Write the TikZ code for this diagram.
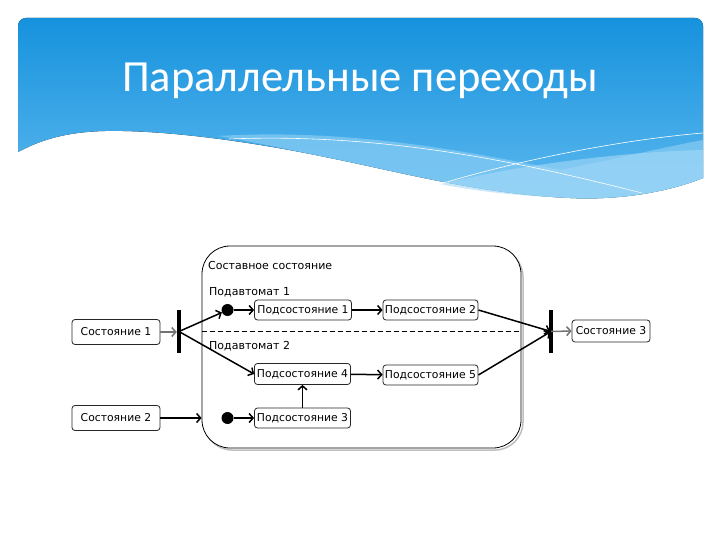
\documentclass[tikz,border=0pt]{standalone}
\usepackage{fontspec}
\setmainfont{DejaVu Sans}
\newfontfamily\titlefont{Carlito}
\usetikzlibrary{arrows.meta}
\definecolor{hdrTop}{RGB}{22,146,221}
\definecolor{hdrBot}{RGB}{92,184,238}
\definecolor{hdrLight}{RGB}{135,204,244}
\definecolor{hdrLighter}{RGB}{165,218,248}
\begin{document}
\begin{tikzpicture}[x=1pt,y=-1pt,
  box/.style={draw=black!85,line width=0.8pt,rounded corners=3pt,fill=white,inner sep=0pt,
    font=\fontsize{10.8}{12}\selectfont},
  bar/.style={fill=black,inner sep=0pt,minimum width=4pt,minimum height=43pt},
  dot/.style={circle,fill=black,inner sep=0pt,minimum size=12pt},
  lbl/.style={anchor=west,inner sep=0pt,font=\fontsize{11}{13}\selectfont},
  arr/.style={line width=1.5pt,-{Straight Barb[length=4pt,width=9pt]}},
  garr/.style={arr,draw=black!55},
]
\useasboundingbox (0,0) rectangle (720,540);
\fill[white] (0,0) rectangle (720,540);
% header
\fill[top color=hdrTop,bottom color=hdrBot]
  (18,152) [rounded corners=8pt] -- (18,18) -- (703,18) [sharp corners] -- (703,178)
  .. controls (660,195) and (610,200) .. (570,198)
  .. controls (480,194) and (400,172) .. (330,158)
  .. controls (230,137) and (150,130) .. (105,131)
  .. controls (60,132) and (35,143) .. (18,152) -- cycle;
\fill[hdrLight,opacity=0.7]
  (218,136) .. controls (350,128) and (470,152) .. (560,170)
  .. controls (620,158) and (670,146) .. (703,140) -- (703,178)
  .. controls (660,195) and (610,200) .. (570,198)
  .. controls (480,194) and (400,172) .. (330,158)
  .. controls (290,150) and (255,142) .. (218,136) -- cycle;
\fill[hdrLighter,opacity=0.6]
  (440,184) .. controls (520,165) and (620,152) .. (703,150) -- (703,178)
  .. controls (660,195) and (610,200) .. (570,198)
  .. controls (520,196) and (480,192) .. (440,184) -- cycle;
\draw[white,line width=0.6pt] (229,139) .. controls (400,132) and (550,170) .. (642,193);
\draw[white,line width=0.6pt] (440,184) .. controls (520,160) and (620,140) .. (703,133);
\node[font=\titlefont\fontsize{44.5}{50}\selectfont,text=white,anchor=base,inner sep=0pt] (title) at (360,92) {Параллельные переходы};
% composite state
\draw[black!25,line width=1.5pt,rounded corners=28pt] (204,249) rectangle (523,450);
\node[draw=black,line width=0.8pt,fill=white,rounded corners=28pt,minimum width=319pt,minimum height=202pt,inner sep=0pt] (comp) at (361.5,347) {};
\coordinate (dl) at (202,331);
\coordinate (dr) at (521,331);
\draw[line width=0.7pt,dash pattern=on 5pt off 3pt] (dl) -- (dr);
\node[lbl] (compl) at (208,265) {Составное состояние};
\node[lbl] (sa1) at (209,292) {Подавтомат 1};
\node[lbl] (sa2) at (209,346) {Подавтомат 2};
% nodes
\node[box,minimum width=88pt,minimum height=25pt] (s1) at (116,332) {Состояние 1};
\node[box,minimum width=88pt,minimum height=25pt] (s2) at (116,418) {Состояние 2};
\node[box,minimum width=78pt,minimum height=22pt] (s3) at (611,331) {Состояние 3};
\node[box,minimum width=97pt,minimum height=20pt] (p1) at (303,310) {Подсостояние 1};
\node[box,minimum width=95pt,minimum height=20pt] (p2) at (430.5,310) {Подсостояние 2};
\node[box,minimum width=96pt,minimum height=21pt] (p4) at (302.5,374) {Подсостояние 4};
\node[box,minimum width=95pt,minimum height=20pt] (p5) at (430.5,375) {Подсостояние 5};
\node[box,minimum width=96pt,minimum height=20pt] (p3) at (302.5,418) {Подсостояние 3};
\node[bar] (fork) at (179,331.5) {};
\node[bar] (join) at (551,331.5) {};
\node[dot] (d1) at (227.5,310) {};
\node[dot] (d2) at (227.5,418) {};
% connectors
\draw[garr] (s1.east) -- (s1.east -| fork.west);
\draw[arr] (fork.center) -- (d1);
\draw[arr] (fork.center) -- (p4.west);
\draw[arr] (d1) -- (p1.west);
\draw[arr] (d2) -- (p3.west);
\draw[arr] (p1) -- (p2);
\draw[arr] (p4) -- (p5);
\draw[arr] (p3) -- (p4);
\draw[arr] (s2.east) -- (s2.east -| comp.west);
\draw[arr,shorten >=1pt] (p2.east) -- (join.center);
\draw[arr,shorten >=1pt] (p5.east) -- (join.center);
\draw[garr] (join.center) -- (s3.west);
\end{tikzpicture}
\end{document}
